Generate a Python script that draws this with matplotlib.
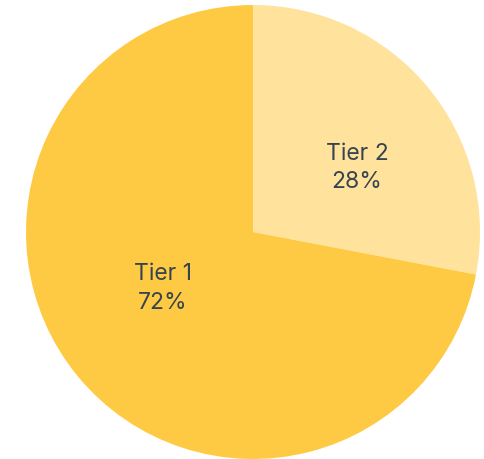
import matplotlib
matplotlib.use("Agg")
import matplotlib.pyplot as plt

categories = ["Tier 2", "Tier 1"]
values = [28, 72]
colors = ["#FFE39C", "#FFCA43"]

fig = plt.figure(figsize=(4.84, 4.60), dpi=100)
ax = fig.add_axes([26/484, 0/460, 454/484, 454/460])
wedges, _ = ax.pie(values, colors=colors, startangle=90, counterclock=False,
                   radius=1.0, wedgeprops=dict(linewidth=0))
ax.set_xlim(-1, 1)
ax.set_ylim(-1, 1)
ax.set_aspect("equal")
ax.axis("off")

# label positions (axes fraction)
label_pos = [(0.729, 0.643), (0.302, 0.377)]
for cat, v, (x, y) in zip(categories, values, label_pos):
    ax.text(x, y, f"{cat}\n{v}%", transform=ax.transAxes, ha="center", va="center",
            fontsize=16.5, family=["Inter", "DejaVu Sans"], color="#36444f",
            linespacing=1.4)

fig.savefig("out.png", dpi=100)
